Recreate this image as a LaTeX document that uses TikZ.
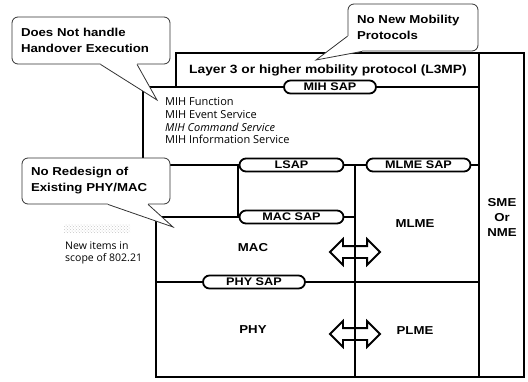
\documentclass[tikz,border=0pt]{standalone}
\usepackage{fontspec}
\setmainfont{Liberation Sans}
\newfontfamily\lblfont{Liberation Sans}[FakeStretch=1.15]
\newfontfamily\mihfont{Open Sans}
\usetikzlibrary{shapes.arrows,patterns,calc}

\begin{document}
\begin{tikzpicture}[x=1pt,y=-1pt,
  frame/.style={line width=1.4pt,line cap=round},
  sap/.style={draw,line width=1.8pt,fill=white,rounded corners=6.5pt,
    minimum height=13pt,inner sep=0pt,
    font=\lblfont\bfseries\fontsize{11}{11}\selectfont},
  lbl/.style={font=\lblfont\bfseries\fontsize{11.5}{15}\selectfont,
    align=center,inner sep=0pt},
  callout/.style={draw=black!80,line width=0.8pt,fill=white,
    rounded corners=6pt,align=left,inner ysep=0pt,inner xsep=9pt,
    font=\lblfont\bfseries\fontsize{11.5}{16}\selectfont},
  tail/.style={draw=black!80,line width=0.8pt},
  mih/.style={font=\mihfont\fontsize{11}{12}\selectfont,anchor=west,inner sep=0pt},
  legend/.style={font=\mihfont\fontsize{10.5}{12}\selectfont,anchor=west,inner sep=0pt},
  swap/.style={double arrow,draw,line width=1.8pt,minimum height=50pt,
    minimum width=24pt,inner sep=5pt,double arrow head extend=7pt}
]
\useasboundingbox (0,0) rectangle (528,381);

% corner points of the layer frame
\coordinate (l3tl) at (176,53);
\coordinate (tr)   at (524,53);
\coordinate (br)   at (524,377);
\coordinate (smeT) at (479,53);
\coordinate (smeB) at (479,377);
\coordinate (l3bl) at (176,87);
\coordinate (mihL) at (143,87);
\coordinate (mihR) at (479,87);
\coordinate (lsL)  at (143,165);
\coordinate (lsR)  at (479,165);
\coordinate (macT) at (156,217);
\coordinate (macB) at (156,377);
\coordinate (divT) at (355,165);
\coordinate (divB) at (355,377);
\coordinate (phyL) at (156,282);
\coordinate (phyR) at (479,282);
\coordinate (boxT) at (238,165);
\coordinate (boxB) at (238,217);

% frame and layer borders
\draw[frame] (l3bl) -- (l3tl) -- (tr) -- (br) -- (macB) -- (macT);
\draw[frame] (smeT) -- (smeB);
\draw[frame] (lsL) -- (mihL) -- (mihR);
\draw[frame] (lsL) -- (lsR);
\draw[frame] (macT) -- (macT -| divT);
\draw[frame] (boxT) -- (boxB);
\draw[frame] (phyL) -- (phyR);

% management exchange arrows, divider drawn over them
\node[swap] (arrU) at (355,252) {};
\node[swap] (arrD) at (355,334) {};
\draw[frame] (divT) -- (divB);

% service access points
\node[sap,minimum width=92pt]  (mihsap)  at (330,87)    {MIH SAP};
\node[sap,minimum width=104pt] (lsap)    at (291.5,165) {LSAP};
\node[sap,minimum width=104pt] (mlmesap) at (418.5,165) {MLME SAP};
\node[sap,minimum width=104pt] (macsap)  at (291.5,217) {MAC SAP};
\node[sap,minimum width=102pt] (physap)  at (254,282)   {PHY SAP};

% layer labels
\node[lbl,font=\lblfont\bfseries\fontsize{12}{14}\selectfont] (l3) at (328,70)
  {Layer 3 or higher mobility protocol (L3MP)};
\node[lbl] (mac)  at (253,248) {MAC};
\node[lbl] (phy)  at (253,330) {PHY};
\node[lbl] (mlme) at (415,224) {MLME};
\node[lbl] (plme) at (415,331) {PLME};
\node[lbl] (sme)  at (502,217) {SME\\Or\\NME};

% MIH function services
\node[mih] (mf) at (165,102)   {MIH Function};
\node[mih] (me) at (165,114.5) {MIH Event Service};
\node[mih] (mc) at (165,127)   {\itshape MIH Command Service};
\node[mih] (mi) at (165,139.5) {MIH Information Service};

% legend
\fill[pattern=crosshatch dots,pattern color=black!22] (64,224) rectangle (130,232);
\node[legend] (new1) at (65,246) {New items in};
\node[legend] (new2) at (65,259) {scope of 802.21};

% callout: handover execution
\node[callout,minimum width=158pt,minimum height=47pt,text width=140pt] (cA) at (91,40.5)
  {Does Not handle\\Handover Execution};
\coordinate (tA) at (157,100);
\coordinate (aA) at ($(cA.south west)!0.56!(cA.south east)$);
\coordinate (bA) at ($(cA.south west)!0.79!(cA.south east)$);
\fill[white] (aA) -- (tA) -- (bA) -- ++(0,-2) -- ($(aA)+(0,-2)$) -- cycle;
\draw[tail] (aA) -- (tA) -- (bA);

% callout: mobility protocols
\node[callout,minimum width=130pt,minimum height=47pt,text width=112pt] (cB) at (413,27.5)
  {No New Mobility\\Protocols};
\coordinate (tB) at (316,60);
\coordinate (aB) at ($(cB.north west)!0.68!(cB.south west)$);
\coordinate (bB) at ($(cB.south west)!0.11!(cB.south east)$);
\fill[white] (aB) -- (tB) -- (bB) -- ($(bB)+(0,-6)$) -- ($(aB)+(3,0)$) -- cycle;
\draw[tail] (aB) -- (tB) -- (bB);

% callout: PHY/MAC
\node[callout,minimum width=148pt,minimum height=46pt,text width=130pt] (cC) at (96,181)
  {No Redesign of\\Existing PHY/MAC};
\coordinate (tC) at (173,227);
\coordinate (aC) at ($(cC.south west)!0.58!(cC.south east)$);
\coordinate (bC) at ($(cC.south west)!0.85!(cC.south east)$);
\fill[white] (aC) -- (tC) -- (bC) -- ++(0,-2) -- ($(aC)+(0,-2)$) -- cycle;
\draw[tail] (aC) -- (tC) -- (bC);
\end{tikzpicture}
\end{document}
